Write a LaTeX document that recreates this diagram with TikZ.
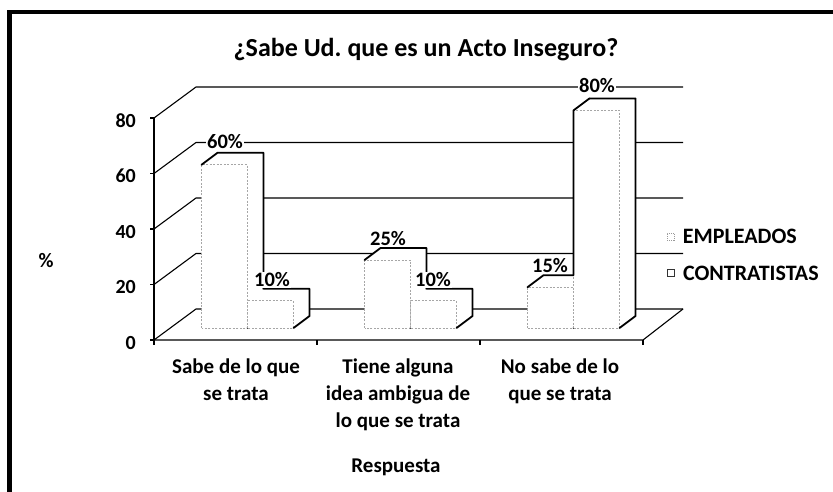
\documentclass[tikz,border=0pt]{standalone}
\usepackage{fontspec}
\setmainfont{Carlito}
\usetikzlibrary{positioning, calc}
\frenchspacing

\tikzset{
  gridline/.style={line width=1.1pt},
  baredge/.style={line width=1.8pt, line join=round, line cap=round},
  faceedge/.style={black!35, dash pattern=on 2pt off 1.5pt, line width=0.7pt},
  vallabel/.style={fill=white, inner sep=1pt, anchor=base, font=\fontsize{20.5}{24}\selectfont\bfseries},
  ticklabel/.style={anchor=base east, inner sep=0pt, font=\fontsize{20}{24}\selectfont\bfseries},
  catlabel/.style={align=center, anchor=north, inner sep=0pt, font=\fontsize{21}{27}\selectfont\bfseries},
  legendtext/.style={inner sep=0pt, font=\fontsize{22}{26}\selectfont\bfseries}
}

\begin{document}
\begin{tikzpicture}[x=1pt, y=-1pt]
\useasboundingbox (0,0) rectangle (833,491);

% Frame
\draw[line width=4.5pt] (9.5,12) rectangle (850,510);

% Title
\node[anchor=base, font=\fontsize{26}{30}\selectfont\bfseries] (title) at (426,56) {¿Sabe Ud. que es un Acto Inseguro?};

% Walls and gridlines
\foreach \v in {0,20,40,60,80} {
    \draw[gridline] (154,{340-\v*2.775}) -- (196,{309-\v*2.775}) -- (683,{309-\v*2.775});
    \draw[gridline] (150,{340-\v*2.775}) -- (154,{340-\v*2.775});
    \node[ticklabel] (tick\v) at (136,{349-\v*2.775}) {\v};
}

% Floor and axes
\draw[gridline] (154,340) -- (643,340) -- (683,309);
\draw[gridline] (154,340) -- (154,118);
\foreach \i in {0,...,3}
    \draw[gridline] ({154+163*\i},340) -- ({154+163*\i},345);

% EMPLEADOS bars
\foreach \bx/\val in {201.5/60, 364.5/25, 527.5/15} {
    \pgfmathsetmacro\h{\val*2.72}
    \fill[white] (\bx,328) -- (\bx,{328-\h}) -- ({\bx+16},{316-\h}) -- ({\bx+62},{316-\h}) -- ({\bx+62},316) -- ({\bx+46},328) -- cycle;
    \draw[faceedge] (\bx,328) rectangle ({\bx+46},{328-\h});
    \draw[baredge] (\bx,{328-\h}) -- ++(16,-12) -- ++(46,0) -- ({\bx+62},316) -- ({\bx+46},328);
}

% CONTRATISTAS bars
\foreach \bx/\val in {247.5/10, 410.5/10, 573.5/80} {
    \pgfmathsetmacro\h{\val*2.72}
    \fill[white] (\bx,328) -- (\bx,{328-\h}) -- ({\bx+16},{316-\h}) -- ({\bx+62},{316-\h}) -- ({\bx+62},316) -- ({\bx+46},328) -- cycle;
    \draw[faceedge] (\bx,328) rectangle ({\bx+46},{328-\h});
    \draw[baredge] ({\bx+16},{316-\h}) -- ++(46,0) -- ({\bx+62},316) -- ({\bx+46},328);
}
% tall bar over its neighbour
\draw[baredge] (573.5,{316-15*2.72}) -- (573.5,{328-80*2.72}) -- ++(16,-12);

% Value labels
\foreach \lx/\val/\nm in {225/60/e1, 272/10/c1, 388/25/e2, 433/10/c2, 550/15/e3, 597/80/c3}
    \node[vallabel] (val\nm) at (\lx,{314.5-\val*2.775}) {\val\%};

% Category labels
\node[catlabel] (cat1) at (236,359) {Sabe de lo que\\se trata};
\node[catlabel] (cat2) at (398,359) {Tiene alguna\\idea ambigua de\\lo que se trata};
\node[catlabel] (cat3) at (560,359) {No sabe de lo\\que se trata};

% Axis titles
\node[anchor=base, inner sep=0pt, font=\fontsize{21}{27}\selectfont\bfseries] (xtitle) at (396,472) {Respuesta};
\node[inner sep=0pt, font=\fontsize{20.5}{24}\selectfont\bfseries] (ytitle) at (46,261) {\%};

% Legend
\node[draw=black!40, dash pattern=on 1pt off 1pt, minimum size=7pt, inner sep=0pt] (markemp) at (670.5,236.5) {};
\node[legendtext, right=8.5pt of markemp] (legemp) {EMPLEADOS};
\node[draw=black!80, line width=0.8pt, minimum size=7pt, inner sep=0pt] (markcon) at (670.5,273) {};
\node[legendtext, right=8.5pt of markcon] (legcon) {CONTRATISTAS};

\end{tikzpicture}
\end{document}
